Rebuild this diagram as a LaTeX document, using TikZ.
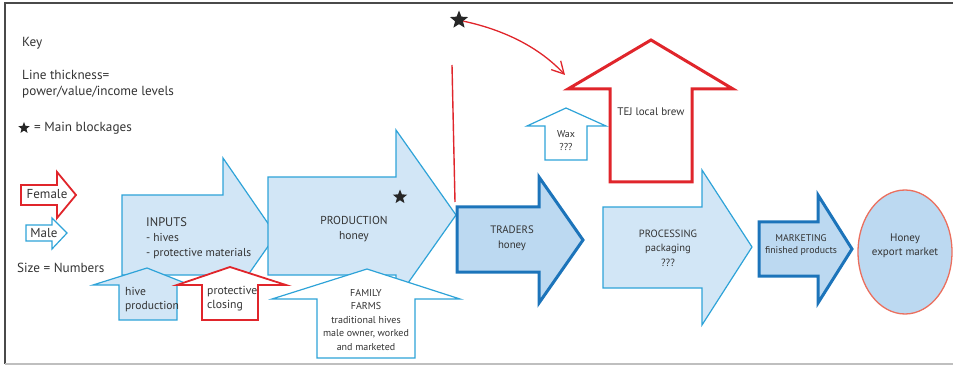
\documentclass[tikz,border=0pt]{standalone}
\usepackage{fontspec}
\setmainfont{PT Sans}
\usetikzlibrary{shapes.geometric,arrows.meta}
\definecolor{lineblue}{HTML}{2EA3D8}
\definecolor{darkblue}{HTML}{1C74BA}
\definecolor{fillblue}{HTML}{D2E6F6}
\definecolor{tradefill}{HTML}{BCD9F1}
\definecolor{redline}{HTML}{E0252B}
\definecolor{salmon}{HTML}{EB6F5E}
\definecolor{txtgray}{HTML}{333333}
\definecolor{framegray}{HTML}{4A4A4A}
\tikzset{
  thinblue/.style={draw=lineblue, line width=1.2pt, fill=fillblue, line join=miter},
  thinwhite/.style={draw=lineblue, line width=1.2pt, fill=white, line join=miter},
  thickblue/.style={draw=darkblue, line width=3pt, fill=tradefill, line join=miter},
  redarrow/.style={draw=redline, line width=1.8pt, fill=white, line join=miter},
  txt/.style={text=txtgray, inner sep=0pt, align=center},
  blockstar/.style={star, star points=5, star point ratio=2.3, fill=black!85, inner sep=0pt}
}
\begin{document}
\begin{tikzpicture}[x=1pt,y=-1pt]
\useasboundingbox (0,0) rectangle (953,366);
\draw[framegray, line width=2pt] (953,3) -- (5,3) -- (5,364);
\draw[gray!50, line width=1.5pt] (5,364) -- (953,364);

\node[txt, anchor=west, font=\fontsize{13.2}{16}\selectfont] (key) at (22,43) {Key};
\node[txt, anchor=west, align=left, font=\fontsize{13.2}{16}\selectfont] (thick) at (22,84) {Line thickness=\\power/value/income levels};
\node[blockstar, minimum size=12pt] (keystar) at (24,128) {};
\node[txt, anchor=west, font=\fontsize{13.2}{16}\selectfont] (blockage) at (34,128) {= Main blockages};

\draw[redarrow] (21,185) -- (57,185) -- (57,172) -- (76,195) -- (57,218) -- (57,205) -- (21,205) -- cycle;
\node[txt, font=\fontsize{13}{16}\selectfont] (female) at (47,194) {Female};
\draw[thinwhite] (26,225) -- (52,225) -- (52,218) -- (67,233) -- (52,249) -- (52,241) -- (26,241) -- cycle;
\node[txt, font=\fontsize{13}{16}\selectfont] (male) at (44,233) {Male};
\node[txt, anchor=west, font=\fontsize{13.2}{16}\selectfont] (size) at (17,268) {Size = Numbers};

\draw[thinblue] (122,195) -- (223,195) -- (223,158) -- (276,235) -- (248,275) -- (122,275) -- cycle;
\node[txt, anchor=west, align=left, font=\fontsize{11.5}{15}\selectfont] (inputs) at (146,238) {{\fontsize{12.5}{15}\selectfont INPUTS}\\- hives\\- protective materials};

\draw[thinblue] (268,177) -- (396,177) -- (396,130) -- (456,215) -- (396,300) -- (396,275) -- (268,275) -- cycle;
\node[txt, font=\fontsize{11.5}{15}\selectfont] (production) at (354,229) {PRODUCTION\\honey};
\node[blockstar, minimum size=15pt] (prodstar) at (400,197) {};

\draw[thinblue] (119,320) -- (119,285) -- (93,285) -- (147,268) -- (190,285) -- (177,285) -- (177,320) -- cycle;
\node[txt, anchor=west, align=left, font=\fontsize{11.6}{14}\selectfont] (hive) at (125,300) {hive\\production};
\draw[redarrow] (202,320) -- (202,285) -- (177,285) -- (230,267) -- (286,285) -- (258,285) -- (258,320) -- cycle;
\node[txt, anchor=west, align=left, font=\fontsize{11.7}{14}\selectfont] (closing) at (207,299) {protective\\closing};

\draw[thinwhite] (317,358) -- (317,299) -- (272,299) -- (367,269) -- (460,299) -- (415,299) -- (415,358) -- cycle;
\node[txt, font=\fontsize{10}{13.5}\selectfont] (family) at (366,320) {FAMILY\\FARMS\\traditional hives\\male owner, worked\\and marketed};

\coordinate (redtop) at (452,65);
\coordinate (redbottom) at (455,202);
\draw[redline, line width=1.4pt] (redtop) -- (redbottom);

\draw[thickblue] (457,207) -- (539,207) -- (539,177) -- (583,240) -- (539,303) -- (539,272) -- (457,272) -- cycle;
\node[txt, font=\fontsize{10.8}{15}\selectfont] (traders) at (512,238) {TRADERS\\honey};

\draw[thinwhite] (545,160) -- (545,126) -- (527,126) -- (566,108) -- (606,126) -- (587,126) -- (587,160) -- cycle;
\node[txt, font=\fontsize{10}{13}\selectfont] (wax) at (566,141) {Wax\\???};

\draw[redarrow, line width=3pt] (610,182) -- (610,89) -- (568,89) -- (651,40) -- (733,89) -- (692,89) -- (692,182) -- cycle;
\node[txt, font=\fontsize{11}{14}\selectfont] (tej) at (651,112) {TEJ local brew};
\coordinate (tejtip) at (565,75);

\node[blockstar, minimum size=19pt] (topstar) at (459,20) {};
\draw[redline, line width=1.3pt, -{Straight Barb[length=12pt, width=13pt]}] (topstar.-15) .. controls (505,30) and (540,48) .. (tejtip);

\draw[thinblue] (603,207) -- (702,207) -- (702,170) -- (752,247) -- (702,325) -- (702,288) -- (603,288) -- cycle;
\node[txt, font=\fontsize{10.5}{14.5}\selectfont] (processing) at (668,248) {PROCESSING\\packaging\\???};

\draw[thickblue] (759,222) -- (818,222) -- (818,195) -- (852,249) -- (818,303) -- (818,276) -- (759,276) -- cycle;
\node[txt, font=\fontsize{9.8}{12.5}\selectfont] (marketing) at (801,245) {MARKETING\\finished products};

\node[ellipse, draw=salmon, line width=1.3pt, fill=tradefill, minimum width=94pt, minimum height=124pt, inner sep=0pt] (export) at (905,252) {};
\node[txt, font=\fontsize{11}{14}\selectfont] (exporttext) at (905,246) {Honey\\export market};
\end{tikzpicture}
\end{document}
